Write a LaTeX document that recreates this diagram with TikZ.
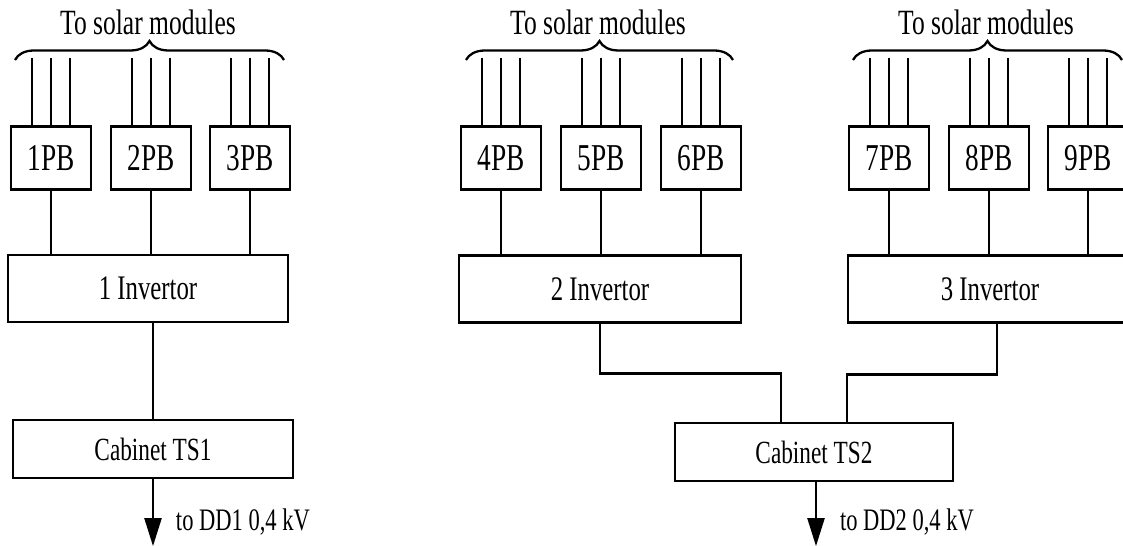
\documentclass[tikz,border=0pt]{standalone}
\usepackage{fontspec}
\newfontfamily\narrowserif[FakeStretch=0.72]{Liberation Serif}
\usetikzlibrary{arrows.meta,positioning,calc,decorations.pathreplacing}
\tikzset{
    every picture/.style={
        line width=1.3pt,
        >={Triangle[length=0.56cm,width=0.34cm]}
    },
    % Box styles
    pbbox/.style={rectangle,draw,minimum width=1.6cm,minimum height=1.26cm,inner sep=0pt,font=\narrowserif\fontsize{21.6}{24}\selectfont},
    invbox/.style={rectangle,draw,minimum width=5.6cm,minimum height=1.34cm,inner sep=0pt,font=\narrowserif\fontsize{19.6}{22}\selectfont},
    cabbox/.style={rectangle,draw,minimum width=5.6cm,minimum height=1.16cm,inner sep=0pt,font=\narrowserif\fontsize{18.4}{20}\selectfont},
    % Text and brace styles
    modbrace/.style={decorate,decoration={brace,amplitude=0.38cm,aspect=0.5}},
    toptext/.style={font=\narrowserif\fontsize{20.2}{22}\selectfont,anchor=base},
    outtext/.style={font=\narrowserif\fontsize{17.8}{20}\selectfont,anchor=west}
}

\begin{document}
\begin{tikzpicture}[x=0.02cm,y=-0.02cm]
    \useasboundingbox (0,0) rectangle (1123,546);

    % PB boxes
    \node[pbbox] (pb1) at (51,158) {1PB};
    \node[pbbox] (pb2) at (151,158) {2PB};
    \node[pbbox] (pb3) at (250,158) {3PB};
    \node[pbbox] (pb4) at (501,158) {4PB};
    \node[pbbox] (pb5) at (601,158) {5PB};
    \node[pbbox] (pb6) at (701,158) {6PB};
    \node[pbbox] (pb7) at (889,158) {7PB};
    \node[pbbox] (pb8) at (989,158) {8PB};
    \node[pbbox] (pb9) at (1088,158) {9PB};

    % Invertors
    \node[invbox] (inv1) at (148,288.5) {1 Invertor};
    \node[invbox,minimum width=5.64cm] (inv2) at (600,289) {2 Invertor};
    \node[invbox,minimum width=5.68cm] (inv3) at (990,289) {3 Invertor};

    % Cabinets
    \node[cabbox] (cab1) at (153,449) {Cabinet TS1};
    \node[cabbox,minimum width=5.56cm] (cab2) at (814,452) {Cabinet TS2};

    % Lines to the solar modules
    \foreach \i in {1,...,9}
        \foreach \dx in {-19,0,19}
            \draw ($(pb\i.north)+(\dx,0)$) -- ++(0,-67);

    % PB -> invertor
    \foreach \i/\j in {1/1,2/1,3/1,4/2,5/2,6/2,7/3,8/3,9/3}
        \draw (pb\i.south) -- (pb\i.south |- inv\j.north);

    % Invertor -> cabinet
    \draw (cab1.north) -- (cab1.north |- inv1.south);
    \draw (inv2.south) -- ++(0,50) -| ($(cab2.north)+(-33,0)$);
    \draw ($(inv3.south)+(7,0)$) -- ++(0,51) -| ($(cab2.north)+(33,0)$);

    % Outputs
    \coordinate (out1) at ($(cab1.south)+(0,67)$);
    \coordinate (out2) at ($(cab2.south)+(2,64)$);
    \draw[->] (cab1.south) -- (out1);
    \draw[->] ($(cab2.south)+(2,0)$) -- (out2);
    \node[outtext] (dd1) at (169,522) {to DD1 0,4 kV};
    \node[outtext] (dd2) at (833,522) {to DD2 0,4 kV};

    % Braces
    \draw[modbrace] (15,60) -- (284,60);
    \draw[modbrace] (466,60) -- (733,60);
    \draw[modbrace] (853,60) -- (1122,60);
    \node[toptext] (sol1) at (148,35) {To solar modules};
    \node[toptext] (sol2) at (598,35) {To solar modules};
    \node[toptext] (sol3) at (986,35) {To solar modules};
\end{tikzpicture}
\end{document}
